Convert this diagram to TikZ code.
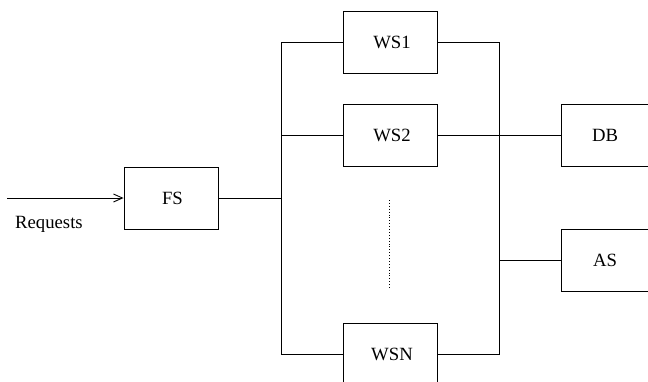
\documentclass[tikz,border=0pt]{standalone}
\usepackage{fontspec}
\setmainfont{Liberation Serif}
\usetikzlibrary{arrows.meta}
\begin{document}
\begin{tikzpicture}[x=1pt,y=-1pt,
  lbl/.style={font=\fontsize{18.7}{22}\selectfont},
  box/.style={draw,line width=0.9pt,minimum width=94pt,minimum height=62pt,inner sep=0pt,lbl},
  wire/.style={line width=0.9pt}]
\useasboundingbox (0,0) rectangle (648,381);
\begin{scope}
\clip (0,0) rectangle (648,381);
\node[box] (fs) at (171,198) {\hspace*{3pt}FS};
\node[box] (ws1) at (390,42) {\hspace*{4pt}WS1};
\node[box] (ws2) at (390,135.5) {\hspace*{4pt}WS2};
\node[box] (wsn) at (390,354) {\hspace*{4pt}WSN};
\node[box] (db) at (608,135.5) {\hspace*{-6pt}DB};
\node[box] (as) at (608,260) {\hspace*{-6pt}AS};
\coordinate (in) at (7,198);
\coordinate (lt) at (281,42);
\coordinate (lm) at (281,198);
\coordinate (lb) at (281,354);
\coordinate (rt) at (499,42);
\coordinate (rb) at (499,354);
\coordinate (r2) at (499,135.5);
\coordinate (ra) at (499,260);
\coordinate (d1) at (389,200);
\coordinate (d2) at (389,288);
\draw[wire,-{Straight Barb[length=9pt,width=8pt]}] (in) -- (fs.west);
\node[lbl,anchor=west,inner sep=0pt] (req) at (15,224) {Requests};
\draw[wire] (fs.east) -- (lm);
\draw[wire] (lt) -- (lb);
\draw[wire] (lt) -- (ws1.west);
\draw[wire] (lm |- ws2.west) -- (ws2.west);
\draw[wire] (lb) -- (wsn.west);
\draw[wire] (ws1.east) -- (rt) -- (rb) -- (wsn.east);
\draw[wire] (ws2.east) -- (db.west);
\draw[wire] (ra) -- (as.west);
\draw[line width=0.9pt,dotted] (d1) -- (d2);
\end{scope}
\end{tikzpicture}
\end{document}
